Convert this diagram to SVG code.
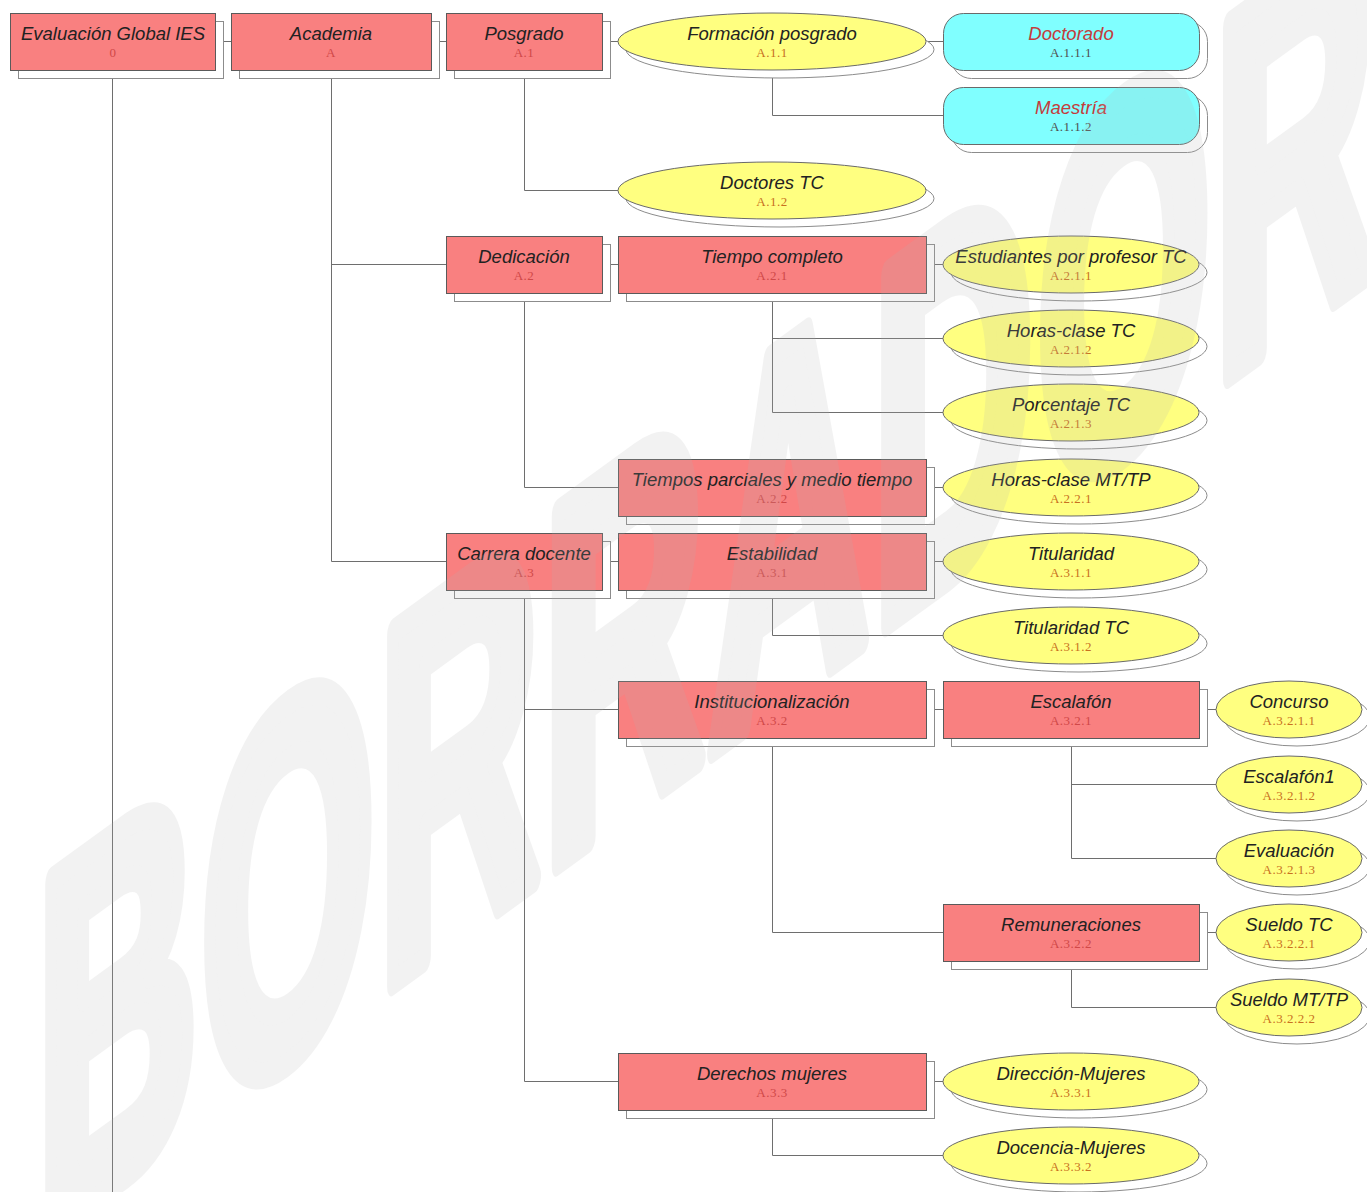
<svg xmlns="http://www.w3.org/2000/svg" width="1367" height="1192" viewBox="0 0 1367 1192">
<style>
.bg{fill:#ffffff}
.sh{fill:#ffffff;stroke:#8c8c8c;stroke-width:1}
.pk{fill:#f98080;stroke:#5a5a5a;stroke-width:1}
.yl{fill:#ffff80;stroke:#6a6a6a;stroke-width:1}
.cy{fill:#80ffff;stroke:#6a6a6a;stroke-width:1}
.t{font-family:"Liberation Sans",Arial,sans-serif;font-style:italic;font-size:18.5px;fill:#222222;text-anchor:middle}
.tr{font-family:"Liberation Sans",Arial,sans-serif;font-style:italic;font-size:18.5px;fill:#c43c3c;text-anchor:middle}
.c{font-family:"Liberation Serif","Times New Roman",serif;font-size:13px;text-anchor:middle;letter-spacing:0.5px}
.cp{fill:#d04848}
.cyc{fill:#c87020}
.cc{fill:#505050}
.cn{fill:none;stroke:#6e6e6e;stroke-width:1}
.wm{font-family:"Liberation Sans",Arial,sans-serif;font-weight:bold;font-size:510px;fill:#b4b4b4;stroke:#b4b4b4;stroke-width:26;stroke-linejoin:round}
</style>
<rect class="bg" x="0" y="0" width="1367" height="1192"/>
<g id="connectors" class="cn">
<path d="M215 41.5H231M431 41.5H446M602 41.5H618M926 41.5H943"/>
<path d="M602 264.5H618M926 264.5H943M926 487.5H943M602 561.5H618M926 561.5H943"/>
<path d="M926 709.5H943M1199 709.5H1216M1199 932.5H1216M926 1081.5H943"/>
<path d="M112.5 78V1192"/>
<path d="M331.5 78V561.5H446M331.5 264.5H446"/>
<path d="M524.5 78V190.5H618"/>
<path d="M772.5 78V115.5H943"/>
<path d="M524.5 301V487.5H618"/>
<path d="M772.5 301V412.5H943M772.5 338.5H943"/>
<path d="M524.5 598V1081.5H618M524.5 709.5H618"/>
<path d="M772.5 598V635.5H943"/>
<path d="M772.5 746V932.5H943"/>
<path d="M1071.5 746V858.5H1216M1071.5 784.5H1216"/>
<path d="M1071.5 969V1007.5H1216"/>
<path d="M772.5 1118V1155.5H943"/>
</g>
<g id="n0"><rect class="sh" x="18.5" y="21.5" width="205" height="57"/><rect class="pk" x="10.5" y="13.5" width="205" height="57"/><text class="t" x="113" y="39.5">Evaluación Global IES</text><text class="c cp" x="113" y="57">0</text></g>
<g id="nA"><rect class="sh" x="239.5" y="21.5" width="200" height="57"/><rect class="pk" x="231.5" y="13.5" width="200" height="57"/><text class="t" x="331" y="39.5">Academia</text><text class="c cp" x="331" y="57">A</text></g>
<g id="nA1"><rect class="sh" x="454.5" y="21.5" width="156" height="57"/><rect class="pk" x="446.5" y="13.5" width="156" height="57"/><text class="t" x="524" y="39.5">Posgrado</text><text class="c cp" x="524" y="57">A.1</text></g>
<g id="nA11"><ellipse class="sh" cx="780" cy="49.5" rx="154" ry="28.5"/><ellipse class="yl" cx="772" cy="41.5" rx="154" ry="28.5"/><text class="t" x="772" y="39.5">Formación posgrado</text><text class="c cyc" x="772" y="57">A.1.1</text></g>
<g id="nA111"><rect class="sh" x="951.5" y="21.5" width="256" height="57" rx="20"/><rect class="cy" x="943.5" y="13.5" width="256" height="57" rx="20"/><text class="tr" x="1071" y="39.5">Doctorado</text><text class="c cc" x="1071" y="57">A.1.1.1</text></g>
<g id="nA112"><rect class="sh" x="951.5" y="95.5" width="256" height="57" rx="20"/><rect class="cy" x="943.5" y="87.5" width="256" height="57" rx="20"/><text class="tr" x="1071" y="113.5">Maestría</text><text class="c cc" x="1071" y="131">A.1.1.2</text></g>
<g id="nA12"><ellipse class="sh" cx="780" cy="198.5" rx="154" ry="28.5"/><ellipse class="yl" cx="772" cy="190.5" rx="154" ry="28.5"/><text class="t" x="772" y="188.5">Doctores TC</text><text class="c cyc" x="772" y="206">A.1.2</text></g>
<g id="nA2"><rect class="sh" x="454.5" y="244.5" width="156" height="57"/><rect class="pk" x="446.5" y="236.5" width="156" height="57"/><text class="t" x="524" y="262.5">Dedicación</text><text class="c cp" x="524" y="280">A.2</text></g>
<g id="nA21"><rect class="sh" x="626.5" y="244.5" width="308" height="57"/><rect class="pk" x="618.5" y="236.5" width="308" height="57"/><text class="t" x="772" y="262.5">Tiempo completo</text><text class="c cp" x="772" y="280">A.2.1</text></g>
<g id="nA211"><ellipse class="sh" cx="1079" cy="272.5" rx="128" ry="28.5"/><ellipse class="yl" cx="1071" cy="264.5" rx="128" ry="28.5"/><text class="t" x="1071" y="262.5">Estudiantes por profesor TC</text><text class="c cyc" x="1071" y="280">A.2.1.1</text></g>
<g id="nA212"><ellipse class="sh" cx="1079" cy="346.5" rx="128" ry="28.5"/><ellipse class="yl" cx="1071" cy="338.5" rx="128" ry="28.5"/><text class="t" x="1071" y="336.5">Horas-clase TC</text><text class="c cyc" x="1071" y="354">A.2.1.2</text></g>
<g id="nA213"><ellipse class="sh" cx="1079" cy="420.5" rx="128" ry="28.5"/><ellipse class="yl" cx="1071" cy="412.5" rx="128" ry="28.5"/><text class="t" x="1071" y="410.5">Porcentaje TC</text><text class="c cyc" x="1071" y="428">A.2.1.3</text></g>
<g id="nA22"><rect class="sh" x="626.5" y="467.5" width="308" height="57"/><rect class="pk" x="618.5" y="459.5" width="308" height="57"/><text class="t" x="772" y="485.5">Tiempos parciales y medio tiempo</text><text class="c cp" x="772" y="503">A.2.2</text></g>
<g id="nA221"><ellipse class="sh" cx="1079" cy="495.5" rx="128" ry="28.5"/><ellipse class="yl" cx="1071" cy="487.5" rx="128" ry="28.5"/><text class="t" x="1071" y="485.5">Horas-clase MT/TP</text><text class="c cyc" x="1071" y="503">A.2.2.1</text></g>
<g id="nA3"><rect class="sh" x="454.5" y="541.5" width="156" height="57"/><rect class="pk" x="446.5" y="533.5" width="156" height="57"/><text class="t" x="524" y="559.5">Carrera docente</text><text class="c cp" x="524" y="577">A.3</text></g>
<g id="nA31"><rect class="sh" x="626.5" y="541.5" width="308" height="57"/><rect class="pk" x="618.5" y="533.5" width="308" height="57"/><text class="t" x="772" y="559.5">Estabilidad</text><text class="c cp" x="772" y="577">A.3.1</text></g>
<g id="nA311"><ellipse class="sh" cx="1079" cy="569.5" rx="128" ry="28.5"/><ellipse class="yl" cx="1071" cy="561.5" rx="128" ry="28.5"/><text class="t" x="1071" y="559.5">Titularidad</text><text class="c cyc" x="1071" y="577">A.3.1.1</text></g>
<g id="nA312"><ellipse class="sh" cx="1079" cy="643.5" rx="128" ry="28.5"/><ellipse class="yl" cx="1071" cy="635.5" rx="128" ry="28.5"/><text class="t" x="1071" y="633.5">Titularidad TC</text><text class="c cyc" x="1071" y="651">A.3.1.2</text></g>
<g id="nA32"><rect class="sh" x="626.5" y="689.5" width="308" height="57"/><rect class="pk" x="618.5" y="681.5" width="308" height="57"/><text class="t" x="772" y="707.5">Institucionalización</text><text class="c cp" x="772" y="725">A.3.2</text></g>
<g id="nA321"><rect class="sh" x="951.5" y="689.5" width="256" height="57"/><rect class="pk" x="943.5" y="681.5" width="256" height="57"/><text class="t" x="1071" y="707.5">Escalafón</text><text class="c cp" x="1071" y="725">A.3.2.1</text></g>
<g id="nA3211"><ellipse class="sh" cx="1297" cy="717.5" rx="73" ry="28.5"/><ellipse class="yl" cx="1289" cy="709.5" rx="73" ry="28.5"/><text class="t" x="1289" y="707.5">Concurso</text><text class="c cyc" x="1289" y="725">A.3.2.1.1</text></g>
<g id="nA3212"><ellipse class="sh" cx="1297" cy="792.5" rx="73" ry="28.5"/><ellipse class="yl" cx="1289" cy="784.5" rx="73" ry="28.5"/><text class="t" x="1289" y="782.5">Escalafón1</text><text class="c cyc" x="1289" y="800">A.3.2.1.2</text></g>
<g id="nA3213"><ellipse class="sh" cx="1297" cy="866.5" rx="73" ry="28.5"/><ellipse class="yl" cx="1289" cy="858.5" rx="73" ry="28.5"/><text class="t" x="1289" y="856.5">Evaluación</text><text class="c cyc" x="1289" y="874">A.3.2.1.3</text></g>
<g id="nA322"><rect class="sh" x="951.5" y="912.5" width="256" height="57"/><rect class="pk" x="943.5" y="904.5" width="256" height="57"/><text class="t" x="1071" y="930.5">Remuneraciones</text><text class="c cp" x="1071" y="948">A.3.2.2</text></g>
<g id="nA3221"><ellipse class="sh" cx="1297" cy="940.5" rx="73" ry="28.5"/><ellipse class="yl" cx="1289" cy="932.5" rx="73" ry="28.5"/><text class="t" x="1289" y="930.5">Sueldo TC</text><text class="c cyc" x="1289" y="948">A.3.2.2.1</text></g>
<g id="nA3222"><ellipse class="sh" cx="1297" cy="1015.5" rx="73" ry="28.5"/><ellipse class="yl" cx="1289" cy="1007.5" rx="73" ry="28.5"/><text class="t" x="1289" y="1005.5">Sueldo MT/TP</text><text class="c cyc" x="1289" y="1023">A.3.2.2.2</text></g>
<g id="nA33"><rect class="sh" x="626.5" y="1061.5" width="308" height="57"/><rect class="pk" x="618.5" y="1053.5" width="308" height="57"/><text class="t" x="772" y="1079.5">Derechos mujeres</text><text class="c cp" x="772" y="1097">A.3.3</text></g>
<g id="nA331"><ellipse class="sh" cx="1079" cy="1089.5" rx="128" ry="28.5"/><ellipse class="yl" cx="1071" cy="1081.5" rx="128" ry="28.5"/><text class="t" x="1071" y="1079.5">Dirección-Mujeres</text><text class="c cyc" x="1071" y="1097">A.3.3.1</text></g>
<g id="nA332"><ellipse class="sh" cx="1079" cy="1163.5" rx="128" ry="28.5"/><ellipse class="yl" cx="1071" cy="1155.5" rx="128" ry="28.5"/><text class="t" x="1071" y="1153.5">Docencia-Mujeres</text><text class="c cyc" x="1071" y="1171">A.3.3.2</text></g>
<g id="watermark" opacity="0.17"><text class="wm" x="0" y="0" transform="translate(36,1242) skewY(-36) scale(0.44,1)" textLength="3045" lengthAdjust="spacing">BORRADOR</text></g>
</svg>
